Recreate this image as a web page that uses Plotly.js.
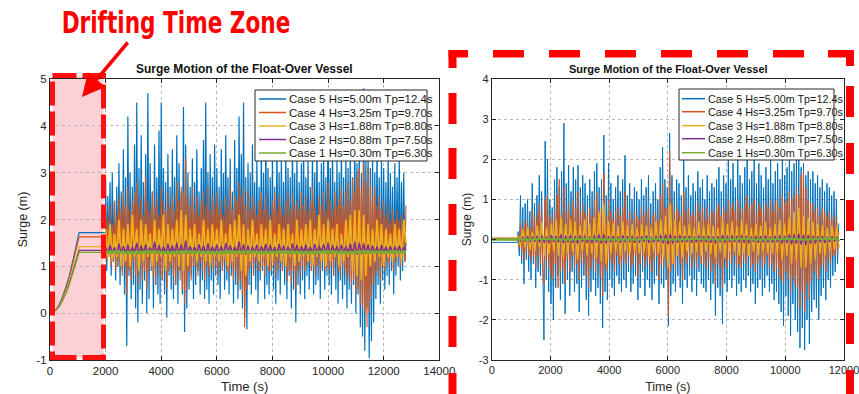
<!DOCTYPE html>
<html><head><meta charset="utf-8">
<script src="https://cdn.plot.ly/plotly-3.0.1.min.js"></script>
<style>html,body{margin:0;padding:0;background:#fff}#chart{width:859px;height:394px}</style>
</head><body><div id="chart"></div>
<script>
// ---------------- DATA ----------------
const caseLabels = ["Case 5 Hs=5.00m Tp=12.4s","Case 4 Hs=3.25m Tp=9.70s","Case 3 Hs=1.88m Tp=8.80s","Case 2 Hs=0.88m Tp=7.50s","Case 1 Hs=0.30m Tp=6.30s"];
const leftXTicks = [0,2000,4000,6000,8000,10000,12000,14000];
const leftYTicks = [-1,0,1,2,3,4,5];
const rightXTicks = [0,2000,4000,6000,8000,10000,12000];
const rightYTicks = [-3,-2,-1,0,1,2,3,4];

// Left chart: drifting ramp (0-2000 s)
const rampTime = [0,100,200,300,400,500,600,700,800,900,1000,1050,2000];
const rampCase5 = [0,0.02,0.07,0.15,0.27,0.42,0.60,0.81,1.05,1.32,1.60,1.72,1.72];
const rampCase4 = [0,0.02,0.07,0.14,0.26,0.40,0.57,0.77,1.00,1.25,1.52,1.63,1.63];
const rampCase3 = [0,0.02,0.06,0.13,0.23,0.35,0.50,0.68,0.88,1.10,1.33,1.42,1.42];
const rampCase2 = [0,0.02,0.06,0.12,0.21,0.33,0.47,0.64,0.83,1.03,1.25,1.34,1.34];
const rampCase1 = [0,0.02,0.06,0.12,0.21,0.32,0.46,0.62,0.81,1.01,1.22,1.30,1.30];

// Left chart: Case 5 / Case 4 samples every 40 s from 2000 s
const leftFineStart = 2000, leftFineStep = 40;
const leftCase5 = [2.9,0.9,2.5,1.3,2.8,0.8,3.0,1.1,2.4,0.7,
 2.7,1.0,3.2,0.6,2.6,0.9,3.5,0.4,2.9,-0.7,
 4.2,0.8,3.0,0.3,2.7,0.6,3.6,0.1,4.5,-0.2,
 3.1,0.5,3.8,0.2,2.8,0.7,3.4,0.0,4.7,0.3,
 3.2,0.9,2.6,0.1,3.6,0.6,2.9,0.4,3.9,0.2,
 4.5,0.7,3.1,0.4,2.8,-0.1,3.4,0.8,2.7,0.5,
 3.5,0.3,2.9,0.6,3.8,0.2,3.2,0.9,2.6,0.4,
 4.4,-0.4,3.6,0.1,3.0,0.5,2.7,0.8,3.3,0.3,
 2.8,0.6,3.5,0.9,2.6,0.4,3.1,0.7,3.7,0.3,
 4.5,0.5,3.0,0.2,3.4,0.7,2.9,0.4,3.6,0.8,
 3.1,0.6,2.7,0.3,3.5,0.9,3.0,0.5,3.8,0.7,
 2.9,0.4,3.3,0.8,2.6,0.2,3.7,0.6,3.1,0.3,
 4.2,0.5,3.4,0.1,4.5,-0.1,2.9,-0.35,3.2,0.6,
 3.0,0.4,3.6,0.8,2.8,0.5,3.3,0.2,2.7,0.7,
 3.5,0.9,3.0,0.3,3.8,0.6,3.1,0.4,2.9,0.8,
 3.4,0.5,2.7,0.2,3.6,0.7,3.0,0.4,3.3,0.9,
 2.8,0.6,3.5,0.3,3.1,0.8,2.9,0.1,3.7,0.5,
 3.0,-0.2,3.4,0.6,2.8,0.4,3.2,0.7,3.6,0.3,
 2.9,0.8,3.3,0.5,2.7,0.9,3.5,0.4,3.0,0.6,
 3.6,0.7,2.8,0.3,3.2,0.9,3.4,0.5,2.9,0.8,
 4.3,0.6,3.1,0.4,3.5,0.8,2.8,0.5,3.3,0.2,
 3.0,0.7,3.6,0.3,2.9,0.6,3.4,0.1,3.1,0.5,
 3.5,0.2,2.9,0.6,3.8,0.0,3.2,0.4,3.6,-0.3,
 3.0,-0.5,4.8,-0.8,3.3,0.1,3.5,-0.96,3.1,-0.6,
 3.4,-0.2,3.0,0.3,3.6,0.6,2.9,0.2,3.3,0.7,
 3.1,0.5,2.8,0.8,3.4,0.6,3.0,0.9,2.7,0.4,
 3.2,0.8,2.9,1.0,3.3,0.7,2.8,0.9,3.0,1.1,
 1.5];
const leftCase4 = [2.2,1.1,2.0,1.2,2.3,1.0,1.9,1.2,2.4,0.9,
 2.1,1.0,2.5,1.1,2.2,0.8,2.6,1.0,2.3,0.4,
 2.7,0.9,2.2,0.7,2.4,1.1,2.6,0.8,2.8,0.6,
 2.3,1.0,2.5,0.7,2.1,0.9,2.9,0.5,2.4,0.9,
 2.2,1.1,2.6,0.8,2.3,0.6,2.5,1.0,2.1,0.8,
 2.7,0.7,2.4,1.0,2.2,0.5,2.6,0.9,2.3,1.0,
 2.5,0.8,2.2,0.6,2.8,0.9,2.4,0.7,2.7,0.5,
 2.6,0.2,3.3,0.5,2.5,0.9,2.3,0.7,2.7,1.0,
 2.2,1.0,2.5,0.8,2.1,1.1,2.4,0.9,2.6,0.7,
 2.3,1.0,2.7,0.8,2.2,1.1,2.5,0.9,2.3,1.0,
 2.6,0.8,2.2,1.0,2.4,0.9,2.1,1.1,2.5,0.9,
 2.3,0.8,2.7,1.0,2.2,0.7,2.5,0.9,2.4,0.6,
 2.8,0.7,2.5,0.4,2.7,-0.3,2.3,0.5,2.6,0.9,
 2.2,1.0,2.5,0.8,2.3,1.1,2.1,0.9,2.4,0.9,
 2.6,1.0,2.2,0.8,2.5,1.1,2.3,0.9,2.1,0.9,
 2.4,1.0,2.6,0.8,2.2,0.9,2.5,1.1,2.3,0.9,
 2.1,1.0,2.4,0.7,2.6,0.9,2.2,0.6,2.5,0.9,
 2.3,0.5,2.4,0.9,2.2,0.8,2.6,1.0,2.3,0.9,
 2.5,1.0,2.2,1.1,2.4,0.9,2.7,1.0,2.3,0.8,
 2.1,1.0,2.5,0.9,2.3,1.1,2.6,0.9,2.2,1.0,
 2.8,0.9,2.4,1.0,2.2,0.8,2.6,1.1,2.3,0.9,
 2.5,0.8,2.7,1.0,2.3,0.9,2.6,0.7,2.8,0.8,
 2.4,0.6,2.9,0.7,2.6,0.4,3.0,0.5,3.1,0.2,
 2.7,0.1,3.2,0.0,2.8,-0.3,3.1,0.0,2.7,0.3,
 2.5,0.6,2.7,0.8,2.3,0.9,2.5,0.7,2.2,1.0,
 2.4,0.9,2.1,1.1,2.3,1.0,2.0,1.2,2.2,0.9,
 2.0,1.1,2.2,1.2,2.0,1.0,2.1,1.2,2.0,1.1,
 2.3];

// Left chart: Case 3 / Case 2 samples every 80 s from 2000 s
const leftStart = 2000, leftStep = 80;
const leftCase3 = [1.8,1.2,1.9,1.1,1.7,1.2,2.0,1.0,1.8,1.1,
 1.9,1.0,2.1,1.2,1.8,0.9,2.0,1.1,1.9,1.2,
 1.7,1.0,2.0,1.1,1.8,1.2,2.1,0.9,1.9,1.1,
 1.8,1.2,2.0,1.0,2.2,0.9,2.1,1.0,1.8,1.2,
 1.9,1.1,1.7,1.2,2.0,1.1,1.8,1.0,1.9,1.2,
 1.8,1.1,2.0,1.2,1.7,1.0,1.9,1.1,2.0,1.2,
 2.1,0.9,1.9,0.8,1.8,1.1,2.0,1.2,1.7,1.1,
 1.9,1.2,1.8,1.0,2.0,1.1,1.7,1.2,1.9,1.1,
 1.8,1.0,1.9,1.2,1.7,1.0,2.0,1.1,1.8,1.2,
 1.9,1.1,2.0,1.0,1.8,1.2,2.1,1.1,1.9,1.0,
 2.0,1.1,1.8,1.2,1.9,1.0,1.7,1.1,2.0,1.2,
 2.1,0.9,2.2,0.8,2.2,0.7,2.1,0.8,1.9,1.0,
 1.8,1.1,2.0,1.2,1.9,1.0,1.8,1.2,1.7,1.1,
 1.9,1.2,1.8,1.1,2.0,1.5];
const leftCase2 = [1.42,1.28,1.45,1.30,1.40,1.27,1.48,1.29,1.43,1.28,
 1.46,1.27,1.41,1.30,1.50,1.26,1.44,1.29,1.47,1.28,
 1.40,1.30,1.52,1.27,1.45,1.29,1.42,1.28,1.48,1.30,
 1.44,1.27,1.50,1.26,1.46,1.28,1.55,1.27,1.43,1.29,
 1.41,1.30,1.47,1.28,1.44,1.27,1.49,1.29,1.42,1.30,
 1.46,1.28,1.43,1.27,1.50,1.29,1.45,1.28,1.41,1.30,
 1.52,1.26,1.47,1.25,1.44,1.28,1.42,1.29,1.46,1.28,
 1.43,1.30,1.48,1.27,1.45,1.29,1.41,1.28,1.47,1.30,
 1.44,1.28,1.42,1.27,1.49,1.29,1.45,1.28,1.43,1.30,
 1.46,1.29,1.41,1.28,1.48,1.27,1.44,1.30,1.47,1.28,
 1.50,1.27,1.45,1.29,1.43,1.28,1.46,1.30,1.42,1.29,
 1.48,1.26,1.52,1.25,1.50,1.26,1.49,1.27,1.46,1.28,
 1.44,1.29,1.42,1.28,1.45,1.30,1.41,1.29,1.43,1.28,
 1.42,1.30,1.44,1.29,1.41,1.34];
const leftGreenStart = 2000, leftGreenStep = 400;
const leftCase1 = [1.30,1.31,1.29,1.30,1.31,1.30,1.29,1.31,1.30,1.30,1.29,1.31,1.30,1.31,1.29,1.30,1.31,1.30,1.29,1.30,1.31,1.30,1.29,1.31,1.30,1.30,1.31,1.30];

// Right chart: calm start (0-900 s)
const preTime = [0,300,600,880];
const preCase5 = [-0.07,-0.07,-0.08,-0.07];
const preCase4 = [0.04,0.04,0.03,0.04];
const preCase3 = [0.02,0.03,0.02,0.02];
const preCase2 = [0.00,0.01,0.00,0.00];
const preCase1 = [0.00,0.01,0.00,0.01];

// Right chart: Case 5 / Case 4 samples every 40 s from 900 s
const rightFineStart = 900, rightFineStep = 40;
const rightCase5 = [0.2,-0.4,1.1,-0.6,0.8,-1.1,0.9,-0.5,1.0,-0.8,
 0.7,-1.0,1.4,-0.6,0.9,-1.2,1.1,-0.8,1.6,-0.9,
 1.2,-1.4,-2.5,2.45,-1.0,2.0,-1.3,1.0,-1.6,0.8,
 -2.0,1.5,-1.2,1.8,-0.9,1.3,-1.5,1.7,-1.1,2.9,
 -1.85,1.4,-1.0,1.85,-1.4,1.2,-0.8,1.8,-1.3,1.5,
 -1.1,1.85,-1.8,1.3,-1.2,1.6,-0.9,1.4,-1.5,1.1,
 -1.9,1.5,-1.3,1.2,-1.0,1.7,-1.4,1.9,-1.2,1.3,
 -1.6,1.5,-2.2,2.6,-1.3,1.1,-1.5,1.9,-1.0,1.4,
 -1.2,1.0,-1.4,1.3,-0.9,1.6,-1.1,1.2,-1.3,1.5,
 -1.0,2.1,-1.2,1.1,-0.8,1.4,-1.3,1.0,-1.1,1.3,
 -0.9,1.2,-1.5,1.0,-1.2,1.5,-0.8,1.1,-1.4,1.3,
 -1.0,1.6,-1.2,0.9,-1.5,1.2,-1.1,1.4,-0.9,1.0,
 -1.6,1.8,-1.1,2.3,-1.2,1.5,-1.0,1.3,-2.15,2.65,
 -1.4,1.6,-1.1,1.2,-1.3,1.5,-0.9,1.4,-1.2,1.1,
 -1.6,2.0,-1.0,1.3,-1.2,1.6,-0.9,1.1,-1.3,1.4,
 -1.0,1.2,-1.4,1.7,-0.8,1.3,-1.1,1.5,-1.2,1.0,
 -1.3,1.6,-1.0,1.2,-1.5,1.4,-1.1,1.3,-1.9,1.5,
 -1.2,1.8,-1.4,1.2,-2.1,1.6,-1.1,1.4,-1.3,2.0,
 -1.0,1.5,-1.2,1.9,-0.9,1.3,-1.4,2.0,-1.1,1.6,
 -1.3,1.4,-1.0,1.8,-1.2,2.1,-0.9,1.5,-1.3,1.7,
 -1.1,2.0,-1.6,1.4,-1.2,1.9,-1.0,1.6,-1.4,1.3,
 -1.2,1.8,-0.9,1.5,-1.3,2.0,-1.1,1.4,-1.5,1.7,
 -1.3,1.9,-1.6,1.5,-1.8,2.0,-2.15,1.6,-1.4,1.8,
 -1.9,2.1,-2.4,1.7,-1.6,1.9,-2.0,2.1,-2.3,2.0,
 -2.7,1.8,-2.2,1.9,-2.75,1.6,-2.0,1.7,-2.6,1.5,
 -1.8,1.7,-1.5,1.4,-1.7,1.6,-2.0,1.3,-1.4,1.5,
 -1.2,1.2,-1.5,1.4,-1.0,1.3,-1.2,1.1,-0.9,1.2,
 -0.8,1.0,-0.6,0.4];
const rightCase4 = [0.1,-0.2,0.4,-0.3,0.3,-0.5,0.5,-0.3,0.4,-0.4,
 0.3,-0.5,0.7,-0.4,0.5,-0.7,0.6,-0.4,0.9,-0.6,
 0.7,-0.8,-1.1,1.0,-0.5,1.1,-0.7,0.6,-0.9,0.5,
 -1.0,0.7,-0.6,1.1,-1.2,1.5,-0.8,0.6,-0.7,1.3,
 -1.1,0.7,-0.5,0.9,-0.8,0.6,-0.4,1.0,-0.7,0.8,
 -0.6,1.2,-1.0,0.7,-0.5,0.9,-0.6,0.7,-0.9,0.6,
 -1.2,0.8,-0.7,0.6,-0.5,1.0,-0.8,1.2,-0.6,0.7,
 -0.9,0.8,-1.4,1.65,-0.7,0.6,-0.8,1.0,-0.5,0.7,
 -0.6,0.5,-0.8,0.7,-0.4,0.8,-0.6,0.6,-0.7,0.8,
 -0.5,1.2,-0.6,0.5,-0.4,0.7,-0.7,0.5,-0.6,0.7,
 -0.4,0.6,-0.9,0.5,-0.6,0.8,-0.4,0.6,-0.7,0.7,
 -0.5,0.8,-0.6,0.4,-0.8,0.6,-0.5,0.7,-0.4,0.5,
 -1.0,1.1,-0.6,1.4,-0.7,0.8,-0.5,0.8,-1.9,2.2,
 -0.8,0.9,-0.6,0.7,-0.7,0.8,-0.4,0.7,-0.6,0.6,
 -1.0,1.2,-0.5,0.7,-0.6,0.8,-0.4,0.6,-0.7,0.7,
 -0.5,0.6,-0.7,0.9,-0.4,0.7,-0.6,0.8,-0.6,0.5,
 -0.7,0.8,-0.5,0.6,-0.8,0.7,-0.6,0.7,-1.1,0.8,
 -0.6,0.9,-0.7,0.6,-1.2,0.8,-0.5,0.7,-0.7,1.0,
 -0.5,0.8,-0.6,0.9,-0.4,0.7,-0.7,1.0,-0.6,0.8,
 -0.7,0.7,-0.5,0.9,-0.6,1.1,-0.4,0.8,-0.7,0.9,
 -0.6,1.0,-0.8,0.7,-0.6,0.9,-0.5,0.8,-0.7,0.7,
 -0.6,0.9,-0.4,0.8,-0.7,1.0,-0.6,0.7,-0.8,0.9,
 -0.7,1.0,-0.9,0.8,-1.0,1.1,-1.1,0.9,-0.8,1.0,
 -1.0,1.2,-1.3,1.0,-0.9,1.1,-1.1,1.3,-1.2,1.1,
 -1.7,1.6,-1.3,1.7,-1.8,1.3,-1.1,1.0,-1.5,0.9,
 -1.0,0.9,-0.8,0.7,-0.9,0.8,-1.0,0.6,-0.7,0.8,
 -0.6,0.7,-0.8,0.6,-0.5,0.7,-0.6,0.5,-0.4,0.6,
 -0.4,0.5,-0.3,0.2];

// Right chart: Case 3 / Case 2 samples every 81 s from 900 s
const rightStart = 900, rightStep = 81;
const rightCase3 = [0.1,-0.15,0.25,-0.2,0.3,-0.25,0.2,-0.3,0.35,-0.2,
 0.45,-0.4,0.3,-0.35,0.4,-0.3,0.5,-0.4,0.55,-0.45,
 0.4,-0.35,0.5,-0.3,0.45,-0.5,0.35,-0.3,0.5,-0.4,
 0.4,-0.35,0.55,-0.45,0.7,-0.55,0.9,-0.6,0.45,-0.35,
 0.4,-0.3,0.35,-0.4,0.45,-0.3,0.35,-0.35,0.4,-0.3,
 0.3,-0.35,0.4,-0.3,0.35,-0.4,0.3,-0.3,0.45,-0.35,
 0.5,-0.45,0.6,-0.7,0.9,-0.6,0.5,-0.4,0.45,-0.45,
 0.35,-0.3,0.4,-0.35,0.3,-0.3,0.45,-0.4,0.35,-0.3,
 0.4,-0.35,0.35,-0.45,0.3,-0.3,0.5,-0.45,0.4,-0.3,
 0.45,-0.3,0.35,-0.4,0.5,-0.35,0.4,-0.4,0.3,-0.3,
 0.4,-0.4,0.35,-0.3,0.45,-0.35,0.3,-0.35,0.4,-0.35,
 0.5,-0.5,0.4,-0.4,0.55,-0.6,0.7,-0.55,0.8,-0.7,
 0.6,-0.7,0.55,-0.6,0.45,-0.5,0.4,-0.35,0.35,-0.4,
 0.3,-0.3,0.35,-0.25,0.3,-0.2];
const rightCase2 = [0.03,-0.04,0.06,-0.05,0.08,-0.06,0.07,-0.05,0.09,-0.07,
 0.10,-0.08,0.07,-0.09,0.11,-0.06,0.08,-0.07,0.12,-0.09,
 0.09,-0.07,0.11,-0.08,0.08,-0.10,0.10,-0.06,0.09,-0.08,
 0.07,-0.09,0.10,-0.07,0.12,-0.10,0.13,-0.09,0.08,-0.07,
 0.09,-0.06,0.07,-0.08,0.10,-0.07,0.08,-0.06,0.09,-0.08,
 0.07,-0.07,0.08,-0.06,0.10,-0.08,0.07,-0.07,0.09,-0.06,
 0.11,-0.09,0.12,-0.11,0.13,-0.10,0.09,-0.08,0.10,-0.07,
 0.08,-0.06,0.09,-0.08,0.07,-0.07,0.10,-0.06,0.08,-0.07,
 0.09,-0.08,0.07,-0.09,0.08,-0.06,0.11,-0.08,0.09,-0.07,
 0.10,-0.06,0.08,-0.07,0.11,-0.08,0.09,-0.09,0.07,-0.06,
 0.09,-0.08,0.08,-0.07,0.10,-0.07,0.07,-0.08,0.09,-0.07,
 0.10,-0.10,0.09,-0.08,0.12,-0.11,0.13,-0.10,0.14,-0.12,
 0.12,-0.13,0.11,-0.10,0.09,-0.09,0.08,-0.07,0.09,-0.08,
 0.07,-0.06,0.08,-0.05,0.06,-0.04];
const rightGreenStart = 900, rightGreenStep = 405;
const rightCase1 = [0.01,0.00,0.02,0.01,0.00,0.01,0.02,0.00,0.01,0.01,0.00,0.02,0.01,0.00,0.01,0.02,0.01,0.00,0.01,0.02,0.00,0.01,0.01,0.02,0.00,0.01,0.02,0.01];

// ---------------- STYLE / BUILD ----------------
const colors = ["#0072BD","#D95319","#EDB120","#7E2F8E","#77AC30"];
const W=859,H=394, ML=50, MR=15, MT=79, MB=34;
const AW=W-ML-MR, AH=H-MT-MB;
const PX = x => (x-ML)/AW;
const PY = y => (H-MB-y)/AH;
const FONT = "Liberation Sans, Arial, Helvetica, sans-serif";
const times = (start, step, n) => Array.from({length:n}, (_,k)=>start+step*k);

const traces = [];
function addLine(ax, ay, x, y, c, w){
  traces.push({type:'scatter',mode:'lines',xaxis:ax,yaxis:ay,name:caseLabels[c],x:x,y:y,
    line:{color:colors[c],width:w},hoverinfo:'skip',showlegend:false});
}
// left chart
addLine('x','y', rampTime.concat(times(leftFineStart,leftFineStep,leftCase5.length)), rampCase5.concat(leftCase5), 0, 1.2);
addLine('x','y', rampTime.concat(times(leftFineStart,leftFineStep,leftCase4.length)), rampCase4.concat(leftCase4), 1, 1.1);
addLine('x','y', rampTime, rampCase3, 2, 1.2);
addLine('x','y', times(leftStart,leftStep,leftCase3.length), leftCase3, 2, 1.8);
addLine('x','y', rampTime, rampCase2, 3, 1.2);
addLine('x','y', times(leftStart,leftStep,leftCase2.length), leftCase2, 3, 1.5);
addLine('x','y', rampTime, rampCase1, 4, 1.2);
addLine('x','y', times(leftGreenStart,leftGreenStep,leftCase1.length), leftCase1, 4, 3);
// right chart
addLine('x2','y2', preTime.concat(times(rightFineStart,rightFineStep,rightCase5.length)), preCase5.concat(rightCase5), 0, 1);
addLine('x2','y2', preTime.concat(times(rightFineStart,rightFineStep,rightCase4.length)), preCase4.concat(rightCase4), 1, 1);
addLine('x2','y2', preTime.concat(times(rightStart,rightStep,rightCase3.length)), preCase3.concat(rightCase3), 2, 1.5);
addLine('x2','y2', preTime.concat(times(rightStart,rightStep,rightCase2.length)), preCase2.concat(rightCase2), 3, 1.4);
addLine('x2','y2', preTime.concat(times(rightGreenStart,rightGreenStep,rightCase1.length)), preCase1.concat(rightCase1), 4, 2.5);

function axisBase(fs){
  return {showline:true,linecolor:'#262626',linewidth:1,mirror:'ticks',ticks:'inside',ticklen:4,
    tickcolor:'#262626',showgrid:true,gridcolor:'#b8b8b8',griddash:'dot',gridwidth:1,zeroline:false,
    tickfont:{family:FONT,size:fs,color:'#262626'},automargin:false,fixedrange:true,
    exponentformat:'none',separatethousands:false,ticklabeloverflow:'allow'};
}
const lab = v => String(v);

const layout = {
  width:W,height:H,paper_bgcolor:'#fff',plot_bgcolor:'#fff',
  margin:{l:ML,r:MR,t:MT,b:MB,pad:0},showlegend:false,
  xaxis:Object.assign(axisBase(11.5),{domain:[0,PX(439.3)],range:[0,14000],tickvals:leftXTicks,ticktext:leftXTicks.map(lab),anchor:'y',
    title:{text:'Time (s)',font:{family:FONT,size:13,color:'#262626'},standoff:9}}),
  yaxis:Object.assign(axisBase(11.5),{domain:[0,1],range:[-1,5],tickvals:leftYTicks,ticktext:leftYTicks.map(lab),anchor:'x',
    title:{text:'Surge (m)',font:{family:FONT,size:12.5,color:'#262626'},standoff:6}}),
  xaxis2:Object.assign(axisBase(11),{domain:[PX(491.7),1],range:[0,12000],tickvals:rightXTicks,ticktext:rightXTicks.map(lab),anchor:'y2',
    title:{text:'Time (s)',font:{family:FONT,size:12.5,color:'#262626'},standoff:9}}),
  yaxis2:Object.assign(axisBase(11),{domain:[0,1],range:[-3,4],tickvals:rightYTicks,ticktext:rightYTicks.map(lab),anchor:'x2',
    title:{text:'Surge (m)',font:{family:FONT,size:12,color:'#262626'},standoff:4}}),
  shapes:[],annotations:[]
};

const S = layout.shapes, A = layout.annotations;
// drifting zone
S.push({type:'rect',xref:'paper',yref:'paper',x0:PX(52.5),x1:PX(103.5),y0:PY(357.5),y1:PY(75.5),
  fillcolor:'rgba(240,90,105,0.28)',line:{width:0},layer:'below'});
S.push({type:'rect',xref:'paper',yref:'paper',x0:PX(52.5),x1:PX(103.5),y0:PY(357.5),y1:PY(75.5),
  fillcolor:'rgba(0,0,0,0)',line:{color:'#ff1010',width:5,dash:'24px,6px'},layer:'above'});

// legends
function legend(box, rows, swX0, swX1, txX, fs){
  S.push({type:'rect',xref:'paper',yref:'paper',x0:PX(box[0]),x1:PX(box[2]),y0:PY(box[3]),y1:PY(box[1]),
    fillcolor:'#fff',line:{color:'#262626',width:1},layer:'above'});
  rows.forEach((ry,i)=>{
    S.push({type:'line',xref:'paper',yref:'paper',x0:PX(swX0),x1:PX(swX1),y0:PY(ry),y1:PY(ry),
      line:{color:colors[i],width:1.5},layer:'above'});
    A.push({xref:'paper',yref:'paper',x:PX(txX),y:PY(ry),xanchor:'left',yanchor:'middle',showarrow:false,
      text:caseLabels[i],font:{family:FONT,size:fs,color:'#1a1a1a'}});
  });
}
legend([255,90,427,161],[99,112.5,126,139.5,153],259,286,287,11.5);
legend([679,89,834,160],[98.7,111.7,125.7,138.7,152.7],682,705,705.5,10.8);

// titles
A.push({xref:'paper',yref:'paper',x:PX(244.5),y:PY(69.5),xanchor:'center',yanchor:'middle',showarrow:false,
  text:'<b>Surge Motion of the Float-Over Vessel</b>',font:{family:FONT,size:12,color:'#111'}});
A.push({xref:'paper',yref:'paper',x:PX(668),y:PY(69),xanchor:'center',yanchor:'middle',showarrow:false,
  text:'<b>Surge Motion of the Float-Over Vessel</b>',font:{family:FONT,size:11,color:'#111'}});

// Drifting Time Zone callout
A.push({xref:'paper',yref:'paper',x:PX(176),y:PY(22),xanchor:'center',yanchor:'middle',showarrow:false,
  text:'<b>Drifting Time Zone</b>',font:{family:"DejaVu Sans Condensed, DejaVu Sans, sans-serif",size:30,color:'#ff0000'}});
A.push({xref:'paper',yref:'paper',x:PX(82),y:PY(97),ax:47,ay:-56,text:'',showarrow:true,
  arrowhead:2,arrowsize:1.3,arrowwidth:3.5,arrowcolor:'#ff0000',standoff:0});

// right red dashed frame (pixel rectangles)
const red = '#ff0000';
function pr(x0,y0,x1,y1){ S.push({type:'rect',xref:'paper',yref:'paper',x0:PX(x0),x1:PX(x1),y0:PY(y1),y1:PY(y0),fillcolor:red,line:{width:0},layer:'above'}); }
pr(448.5,50,468,57.5); pr(448.5,50,456.5,68);
[493,549,605,661,717,773].forEach(x=>pr(x,50,x+31,57.5));
pr(828,50,854,57.5); pr(846,50,854,66);
[93,148,204,260,316,373].forEach(y=>pr(448.5,y,456.5,Math.min(y+31,394)));
[86,143,200,257,313,370].forEach(y=>pr(846,y,854,Math.min(y+31,394)));

Plotly.newPlot('chart',traces,layout,{displayModeBar:false,staticPlot:true}).then(gd=>{
  const el=[...gd.querySelectorAll('.annotation-text')].find(t=>t.textContent==='Drifting Time Zone');
  if(el){
    const b=el.getBBox(); const cx=b.x+b.width/2;
    const ex=el.getAttribute('transform');
    el.setAttribute('transform',(ex?ex+' ':'')+'translate('+cx+',0) scale(0.8,1) translate('+(-cx)+',0)');
  }
});
</script></body></html>
